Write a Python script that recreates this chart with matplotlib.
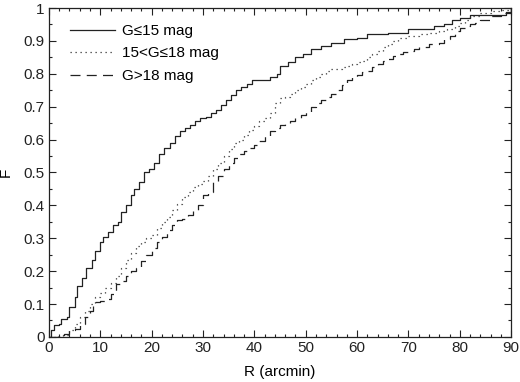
import matplotlib
matplotlib.use("Agg")
import matplotlib.pyplot as plt
from matplotlib.ticker import MultipleLocator

plt.rcParams['font.family'] = ['Liberation Sans', 'DejaVu Sans']

# G <= 15 mag
r_bright = [0, 0.5, 1, 2, 2.4, 3.5, 4, 5, 5.5, 6.5, 7.3, 8.3, 9, 10, 10.6, 11.5, 12.5, 13.5,
            14, 15, 16, 16.5, 17.5, 18.5, 19.5, 20.5, 21.5, 22.5, 23.5, 24.5, 25.5, 26.5,
            27.5, 28.5, 29.5, 30.5, 31.5, 32.5, 33.5, 34.5, 35.5, 36.5, 37.5, 38.5, 39.5,
            43, 44.5, 45, 46.5, 48, 49.5, 51, 53, 55, 57.5, 60, 62, 66, 70, 75, 77, 78.5,
            80, 82, 89, 90]
f_bright = [0, 0.02, 0.035, 0.04, 0.055, 0.06, 0.09, 0.12, 0.155, 0.18, 0.21, 0.235, 0.26,
            0.29, 0.305, 0.32, 0.34, 0.35, 0.38, 0.40, 0.43, 0.45, 0.47, 0.50, 0.51, 0.53,
            0.555, 0.575, 0.59, 0.61, 0.625, 0.635, 0.645, 0.655, 0.665, 0.67, 0.68, 0.69,
            0.705, 0.72, 0.735, 0.75, 0.76, 0.77, 0.78, 0.79, 0.80, 0.825, 0.835, 0.85,
            0.86, 0.875, 0.885, 0.895, 0.905, 0.91, 0.92, 0.925, 0.935, 0.945, 0.95, 0.965,
            0.97, 0.98, 0.987, 1.0]

# 15 < G <= 18 mag
r_mid = [0, 2.8, 4, 5, 6, 7, 8, 9, 10, 11, 12, 13, 14, 15, 16, 17, 18, 19, 20, 21, 22, 23,
         24, 25, 26, 27, 28, 29, 30, 31, 32, 33, 34, 35, 36, 37, 38, 39, 40, 41, 42, 43, 44,
         45, 46, 47, 48, 49, 50, 51, 52, 53, 54, 55, 56, 57, 58, 59, 60, 61, 62, 63, 64, 65,
         66, 67, 68, 70, 72, 74, 76, 77.5, 79, 80, 81, 82, 84, 86, 88, 90]
f_mid = [0, 0.005, 0.02, 0.04, 0.06, 0.08, 0.10, 0.12, 0.135, 0.15, 0.165, 0.185, 0.21,
         0.235, 0.255, 0.275, 0.29, 0.30, 0.31, 0.33, 0.35, 0.365, 0.385, 0.405, 0.425,
         0.44, 0.455, 0.465, 0.475, 0.49, 0.51, 0.53, 0.55, 0.57, 0.59, 0.60, 0.615, 0.63,
         0.64, 0.655, 0.665, 0.68, 0.71, 0.725, 0.73, 0.74, 0.75, 0.76, 0.77, 0.78, 0.79,
         0.80, 0.81, 0.815, 0.815, 0.82, 0.825, 0.83, 0.835, 0.84, 0.85, 0.86, 0.87, 0.88,
         0.89, 0.90, 0.91, 0.915, 0.92, 0.925, 0.93, 0.935, 0.945, 0.955, 0.965, 0.975,
         0.985, 0.99, 0.995, 1.0]

# G > 18 mag
r_faint = [0, 1.8, 3, 4, 5, 6, 7, 8, 8.6, 10, 11, 12, 13, 14, 15, 16, 17, 18, 19, 20, 21,
           22, 23, 24, 25, 26, 27, 28, 29, 30, 31, 32, 33, 34, 35, 36, 37, 38, 39, 40, 41,
           42, 43, 44, 45, 46, 47, 48, 49, 50, 51, 52, 53, 54, 55, 56, 57, 58, 59, 60, 61,
           62, 63, 64, 65, 66, 67, 68, 69, 70, 71, 72, 74, 76, 77, 78, 79, 80, 81, 82, 83,
           84, 86, 88, 90]
f_faint = [0, 0.005, 0.01, 0.02, 0.025, 0.04, 0.06, 0.08, 0.105, 0.11, 0.115, 0.13, 0.16,
           0.17, 0.185, 0.20, 0.21, 0.23, 0.25, 0.27, 0.29, 0.305, 0.325, 0.34, 0.355, 0.36,
           0.37, 0.385, 0.40, 0.43, 0.44, 0.47, 0.49, 0.51, 0.53, 0.545, 0.555, 0.565, 0.575,
           0.585, 0.595, 0.61, 0.625, 0.635, 0.645, 0.65, 0.655, 0.665, 0.675, 0.685, 0.70,
           0.71, 0.72, 0.73, 0.74, 0.75, 0.765, 0.78, 0.79, 0.795, 0.805, 0.81, 0.82, 0.83,
           0.84, 0.845, 0.855, 0.86, 0.865, 0.87, 0.875, 0.88, 0.89, 0.895, 0.905, 0.915,
           0.93, 0.94, 0.945, 0.95, 0.955, 0.965, 0.975, 0.985, 1.0]

labels = ['G\u226415 mag', '15<G\u226418 mag', 'G>18 mag']

fig = plt.figure(figsize=(5.2, 3.82), dpi=100)
ax = fig.add_axes([0.094, 0.118, 0.889, 0.861])

ax.plot(r_bright, f_bright, drawstyle='steps-post', color='#222222', lw=0.9,
        linestyle='-', label=labels[0])
ax.plot(r_mid, f_mid, drawstyle='steps-post', color='#333333', lw=0.9,
        linestyle=(0, (1, 3)), label=labels[1])
ax.plot(r_faint, f_faint, drawstyle='steps-post', color='#222222', lw=0.9,
        linestyle=(0, (8, 5)), label=labels[2])

ax.set_xlim(0, 90)
ax.set_ylim(0, 1)
ax.xaxis.set_major_locator(MultipleLocator(10))
ax.xaxis.set_minor_locator(MultipleLocator(2))
ax.yaxis.set_major_locator(MultipleLocator(0.1))
ax.yaxis.set_minor_locator(MultipleLocator(0.05))
ax.yaxis.set_major_formatter(plt.FuncFormatter(lambda v, p: f"{v:g}"))
ax.tick_params(which='both', direction='in', top=True, right=True, labelsize=11,
               width=0.8, colors='#222222')
ax.tick_params(which='major', length=5, pad=3)
ax.tick_params(which='minor', length=2.5)
for s in ax.spines.values():
    s.set_linewidth(0.9)
    s.set_color('#222222')

ax.set_xlabel('R (arcmin)', fontsize=11, labelpad=7)
ax.set_ylabel('F', fontsize=11, labelpad=8)

ax.legend(loc='upper left', frameon=False, fontsize=11, handlelength=3.0,
          handletextpad=0.45, labelspacing=0.55, borderaxespad=0.65,
          bbox_to_anchor=(0.01, 1.0))

fig.savefig('out.png', dpi=100)
